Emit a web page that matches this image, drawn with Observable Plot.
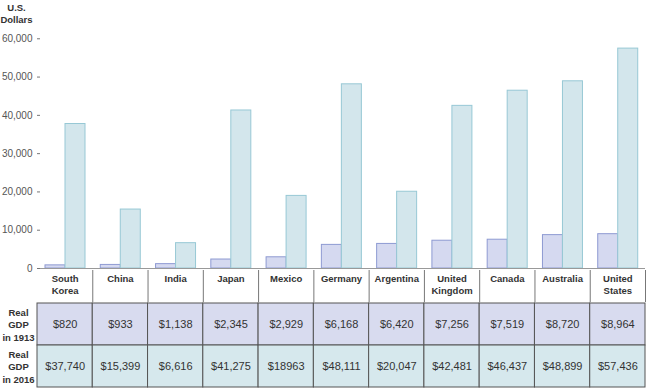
<!DOCTYPE html>
<html><head><meta charset="utf-8">
<script src="https://cdn.jsdelivr.net/npm/d3@7"></script>
<script src="https://cdn.jsdelivr.net/npm/@observablehq/plot@0.6"></script>
<style>
body{margin:0;background:#fff;}
#chart svg{display:block;}
#chart svg.top{overflow:visible;position:relative;z-index:1;}
</style></head><body><div id="chart"></div>
<script>
const countries = ["South Korea","China","India","Japan","Mexico","Germany","Argentina","United Kingdom","Canada","Australia","United States"];
const headerLabels = ["South\nKorea","China","India","Japan","Mexico","Germany","Argentina","United\nKingdom","Canada","Australia","United\nStates"];
const gdp1913 = [820,933,1138,2345,2929,6168,6420,7256,7519,8720,8964];
const gdp2016 = [37740,15399,6616,41275,18963,48111,20047,42481,46437,48899,57436];
const labels1913 = ["$820","$933","$1,138","$2,345","$2,929","$6,168","$6,420","$7,256","$7,519","$8,720","$8,964"];
const labels2016 = ["$37,740","$15,399","$6,616","$41,275","$18963","$48,111","$20,047","$42,481","$46,437","$48,899","$57,436"];
const rowKeys = ["1913","2016"];
const rowLabels = ["Real\nGDP\nin 1913","Real\nGDP\nin 2016"];
const yTicks = [0,10000,20000,30000,40000,50000,60000];
const yTitle = "U.S.\nDollars";

const W = 647, ML = 37, MR = 2;
const step = (W - ML - MR) / countries.length;
const font = "'Liberation Sans', Arial, Helvetica, sans-serif";

const bars1913 = countries.map((c, i) => ({country: c, value: gdp1913[i]}));
const bars2016 = countries.map((c, i) => ({country: c, value: gdp2016[i]}));
const cells = countries.flatMap((c, i) => [
  {country: c, row: "1913", label: labels1913[i]},
  {country: c, row: "2016", label: labels2016[i]}
]);

const xScale = {type: "band", domain: countries, padding: 0, round: false, axis: null};
const barW = 20, pad = 8;

const chart = Plot.plot({
  className: "gdpchart",
  width: W, height: 270, marginLeft: ML, marginRight: MR, marginTop: 0, marginBottom: 2,
  style: {fontFamily: font, background: "transparent", overflow: "visible"},
  x: xScale,
  y: {domain: [0, 70000], axis: null, label: null},
  marks: [
    Plot.barY(bars1913, {x: "country", y: "value", fill: "#d5d9f0", stroke: "#8e9ad2", strokeWidth: 1,
      insetLeft: pad, insetRight: step - pad - barW}),
    Plot.barY(bars2016, {x: "country", y: "value", fill: "#d3e6ec", stroke: "#97c8d5", strokeWidth: 1,
      insetLeft: pad + barW, insetRight: step - pad - 2 * barW}),
    Plot.ruleY([0], {stroke: "#999", strokeWidth: 1}),
    Plot.axisY(yTicks, {label: null, tickSize: 3, dx: 3, tickFormat: () => "", stroke: "#777"}),
    Plot.axisY(yTicks, {label: null, tickSize: 0, tickPadding: 5, line: true, stroke: "#888", tickFormat: d3.format(","), fontSize: 10, fill: "#555"}),
    Plot.text([yTitle], {text: d => d, frameAnchor: "top-left", dx: -21, dy: 2, textAnchor: "middle", lineAnchor: "top",
      fontWeight: "bold", fontSize: 9.5, lineHeight: 1.25, fill: "#333"})
  ]
});
chart.classList.add("top");

const header = Plot.plot({
  width: W, height: 32, marginLeft: ML, marginRight: MR, marginTop: 0, marginBottom: 0,
  style: {fontFamily: font, background: "transparent"},
  x: xScale,
  marks: [
    Plot.ruleX(countries.slice(1), {x: d => d, dx: -step / 2, stroke: "#777"}),
    Plot.ruleX(countries.slice(-1), {x: d => d, dx: step / 2, stroke: "#777"}),
    Plot.text(countries, {x: d => d, text: (d, i) => headerLabels[i], frameAnchor: "top", lineAnchor: "top", dy: 3,
      fontWeight: "bold", fontSize: 9.5, lineHeight: 1.28, fill: "#333"})
  ]
});

const table = Plot.plot({
  width: W, height: 86, marginLeft: ML, marginRight: MR, marginTop: 1, marginBottom: 1,
  style: {fontFamily: font, background: "#fff"},
  x: xScale,
  y: {type: "band", domain: rowKeys, padding: 0, round: false, axis: null},
  color: {domain: rowKeys, range: ["#d8dbef", "#d6e8ed"]},
  marks: [
    Plot.cell(cells, {x: "country", y: "row", fill: "row", stroke: "#555", strokeWidth: 1}),
    Plot.text(cells, {x: "country", y: "row", text: "label", fontSize: 11, fill: "#333"}),
    Plot.text(rowKeys, {y: d => d, text: (d, i) => rowLabels[i], frameAnchor: "left", dx: -19, textAnchor: "middle",
      fontWeight: "bold", fontSize: 9.5, lineHeight: 1.3, fill: "#333"})
  ]
});

const root = document.getElementById("chart");
root.append(chart, header, table);
</script></body></html>
